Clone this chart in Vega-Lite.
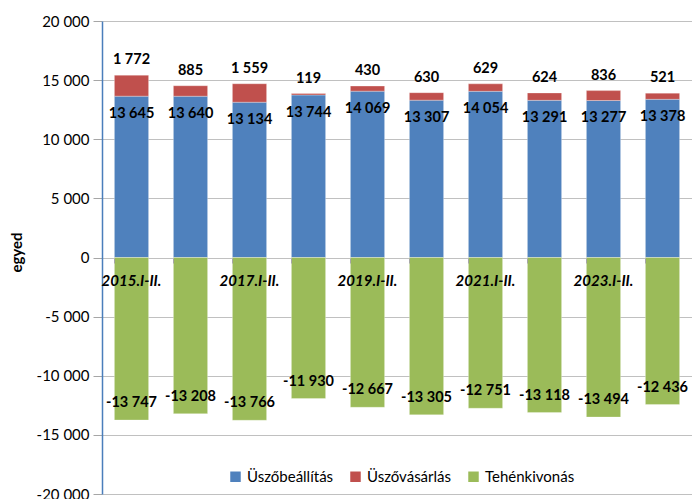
{
  "$schema": "https://vega.github.io/schema/vega-lite/v6.json",
  "width": 590,
  "height": 473,
  "autosize": {"type": "none"},
  "padding": {"left": 102, "top": 21, "right": 0, "bottom": 5},
  "config": {
    "locale": {"number": {"decimal": ",", "thousands": " ", "grouping": [3], "currency": ["", ""], "minus": "-"}},
    "font": "Lato",
    "view": {"stroke": null}
  },
  "data": {
    "values": [
      {"cat": "2015.I-II.", "series": "Üszőbeállítás", "order": 1, "value": 13645},
      {"cat": "2015.I-II.", "series": "Üszővásárlás", "order": 2, "value": 1772},
      {"cat": "2015.I-II.", "series": "Tehénkivonás", "order": 3, "value": -13747},
      {"cat": "2016.I-II.", "series": "Üszőbeállítás", "order": 1, "value": 13640},
      {"cat": "2016.I-II.", "series": "Üszővásárlás", "order": 2, "value": 885},
      {"cat": "2016.I-II.", "series": "Tehénkivonás", "order": 3, "value": -13208},
      {"cat": "2017.I-II.", "series": "Üszőbeállítás", "order": 1, "value": 13134},
      {"cat": "2017.I-II.", "series": "Üszővásárlás", "order": 2, "value": 1559},
      {"cat": "2017.I-II.", "series": "Tehénkivonás", "order": 3, "value": -13766},
      {"cat": "2018.I-II.", "series": "Üszőbeállítás", "order": 1, "value": 13744},
      {"cat": "2018.I-II.", "series": "Üszővásárlás", "order": 2, "value": 119},
      {"cat": "2018.I-II.", "series": "Tehénkivonás", "order": 3, "value": -11930},
      {"cat": "2019.I-II.", "series": "Üszőbeállítás", "order": 1, "value": 14069},
      {"cat": "2019.I-II.", "series": "Üszővásárlás", "order": 2, "value": 430},
      {"cat": "2019.I-II.", "series": "Tehénkivonás", "order": 3, "value": -12667},
      {"cat": "2020.I-II.", "series": "Üszőbeállítás", "order": 1, "value": 13307},
      {"cat": "2020.I-II.", "series": "Üszővásárlás", "order": 2, "value": 630},
      {"cat": "2020.I-II.", "series": "Tehénkivonás", "order": 3, "value": -13305},
      {"cat": "2021.I-II.", "series": "Üszőbeállítás", "order": 1, "value": 14054},
      {"cat": "2021.I-II.", "series": "Üszővásárlás", "order": 2, "value": 629},
      {"cat": "2021.I-II.", "series": "Tehénkivonás", "order": 3, "value": -12751},
      {"cat": "2022.I-II.", "series": "Üszőbeállítás", "order": 1, "value": 13291},
      {"cat": "2022.I-II.", "series": "Üszővásárlás", "order": 2, "value": 624},
      {"cat": "2022.I-II.", "series": "Tehénkivonás", "order": 3, "value": -13118},
      {"cat": "2023.I-II.", "series": "Üszőbeállítás", "order": 1, "value": 13277},
      {"cat": "2023.I-II.", "series": "Üszővásárlás", "order": 2, "value": 836},
      {"cat": "2023.I-II.", "series": "Tehénkivonás", "order": 3, "value": -13494},
      {"cat": "2024.I-II.", "series": "Üszőbeállítás", "order": 1, "value": 13378},
      {"cat": "2024.I-II.", "series": "Üszővásárlás", "order": 2, "value": 521},
      {"cat": "2024.I-II.", "series": "Tehénkivonás", "order": 3, "value": -12436}
    ]
  },
  "transform": [
    {"stack": "value", "groupby": ["cat"], "sort": [{"field": "order"}], "as": ["y0", "y1"]}
  ],
  "encoding": {
    "x": {
      "field": "cat", "type": "nominal", "sort": null,
      "scale": {"paddingInner": 0.42, "paddingOuter": 0.21},
      "axis": {
        "title": null,
        "offset": -236,
        "zindex": 1,
        "domain": false,
        "bandPosition": 0,
        "tickColor": "#a6a6a6",
        "tickSize": 5,
        "labelAngle": 0,
        "labelPadding": 10,
        "labelFont": "Lato",
        "labelFontSize": 15,
        "labelFontWeight": "bold",
        "labelFontStyle": "italic",
        "labelColor": "#000000",
        "labelExpr": "indexof(['2015.I-II.','2017.I-II.','2019.I-II.','2021.I-II.','2023.I-II.'], datum.value) >= 0 ? datum.value : ''"
      }
    }
  },
  "layer": [
    {
      "mark": {"type": "bar", "stroke": "#ffffff", "strokeWidth": 0.5, "strokeOpacity": 0.6},
      "encoding": {
        "y": {
          "field": "y1", "type": "quantitative",
          "scale": {"domain": [-20000, 20000], "nice": false},
          "axis": {
            "title": "egyed",
            "titleFontWeight": "bold",
            "titleFontSize": 15,
            "titleColor": "#000000",
            "titleX": -78,
            "titleY": 231,
            "values": [-20000, -15000, -10000, -5000, 0, 5000, 10000, 15000, 20000],
            "format": ",d",
            "labelFontSize": 15,
            "labelColor": "#000000",
            "labelPadding": 4,
            "tickSize": 9,
            "tickColor": "#a6a6a6",
            "domainColor": "#4a7ebb",
            "domainWidth": 1.5,
            "gridColor": "#c0c0c0",
            "gridWidth": 1.2
          }
        },
        "y2": {"field": "y0"},
        "color": {
          "field": "series", "type": "nominal",
          "scale": {"domain": ["Üszőbeállítás", "Üszővásárlás", "Tehénkivonás"], "range": ["#4f81bd", "#c0504d", "#9bbb59"]},
          "legend": {
            "title": null,
            "orient": "none",
            "direction": "horizontal",
            "legendX": 126,
            "legendY": 448,
            "symbolType": "square",
            "symbolSize": 110,
            "symbolStrokeWidth": 0,
            "labelFontSize": 15,
            "labelColor": "#000000",
            "labelOffset": 4,
            "columnPadding": 14
          }
        }
      }
    },
    {
      "transform": [{"filter": "datum.series == 'Üszőbeállítás'"}],
      "mark": {"type": "text", "fontWeight": "bold", "fontSize": 14.5, "dy": 18, "baseline": "middle", "color": "#000000"},
      "encoding": {"y": {"field": "y1", "type": "quantitative"}, "text": {"field": "value", "format": ","}}
    },
    {
      "transform": [{"filter": "datum.series == 'Üszővásárlás'"}],
      "mark": {"type": "text", "fontWeight": "bold", "fontSize": 14.5, "dy": -15, "baseline": "middle", "color": "#000000"},
      "encoding": {"y": {"field": "y1", "type": "quantitative"}, "text": {"field": "value", "format": ","}}
    },
    {
      "transform": [{"filter": "datum.series == 'Tehénkivonás'"}],
      "mark": {"type": "text", "fontWeight": "bold", "fontSize": 14.5, "dy": -17, "baseline": "middle", "color": "#000000"},
      "encoding": {"y": {"field": "y1", "type": "quantitative"}, "text": {"field": "value", "format": ","}}
    }
  ]
}
